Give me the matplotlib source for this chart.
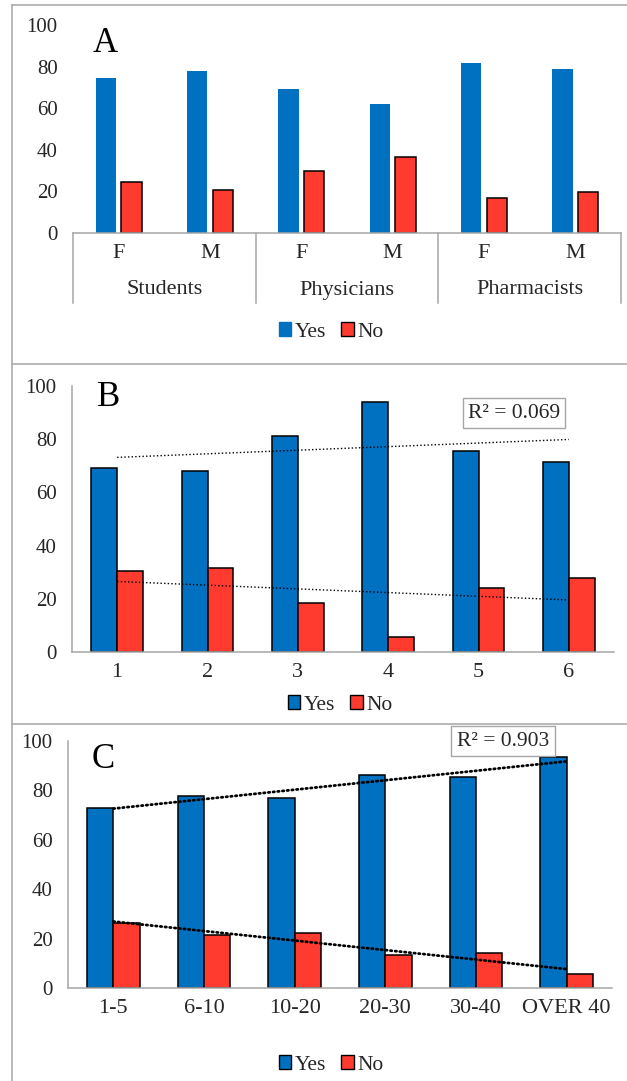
import matplotlib
matplotlib.use("Agg")
import matplotlib.pyplot as plt
import matplotlib.transforms as mtransforms
from matplotlib.lines import Line2D
from matplotlib.patches import Patch
import numpy as np

W, H = 627, 1081
BLUE = "#0070C0"
RED = "#FF3B30"
GRAY = "#A6A6A6"
TXT = "#262626"

plt.rcParams["font.family"] = ["Liberation Serif", "DejaVu Serif"]

# panel A: yes/no by profession and sex
groups_a = ["Students", "Physicians", "Pharmacists"]
sex_a = ["F", "M", "F", "M", "F", "M"]
yes_a = [74.4, 78.1, 69.3, 62.2, 81.9, 79.0]
no_a = [24.3, 20.5, 29.8, 36.3, 16.8, 19.5]

# panel B
cats_b = ["1", "2", "3", "4", "5", "6"]
yes_b = [69.0, 68.2, 81.1, 93.9, 75.5, 71.5]
no_b = [30.5, 31.6, 18.5, 5.8, 23.9, 27.9]
r2_b = "R² = 0.069"

# panel C: years of practice
cats_c = ["1-5", "6-10", "10-20", "20-30", "30-40", "OVER 40"]
yes_c = [73.0, 77.9, 77.1, 86.4, 85.3, 93.5]
no_c = [26.5, 21.6, 22.4, 13.2, 14.2, 5.8]
r2_c = "R² = 0.903"

TICK_FS = 15
CAT_FS = 16
LEG_FS = 15.5
LETTER_FS = 25

fig = plt.figure(figsize=(W / 100, H / 100), dpi=100)


def px_axes(x0, y0, x1, y1):
    return fig.add_axes([x0 / W, 1 - y1 / H, (x1 - x0) / W, (y1 - y0) / H])


def fx(x):
    return x / W


def fy(y):
    return 1 - y / H


def style(ax, left_spine=True):
    ax.set_ylim(0, 100)
    ax.set_yticks(range(0, 101, 20))
    for s in ["top", "right"]:
        ax.spines[s].set_visible(False)
    ax.spines["left"].set_visible(left_spine)
    ax.spines["left"].set_color(GRAY)
    ax.spines["bottom"].set_color(GRAY)
    ax.spines["left"].set_linewidth(1.1)
    ax.spines["bottom"].set_linewidth(1.1)
    ax.tick_params(length=0, labelsize=TICK_FS, labelcolor=TXT)
    ax.tick_params(axis="y", pad=11)
    ax.tick_params(axis="x", pad=8)
    ax.patch.set_alpha(0)


def legend(xc, yc, yes_edge):
    handles = [
        Patch(facecolor=BLUE, edgecolor="black" if yes_edge else BLUE, linewidth=1.0),
        Patch(facecolor=RED, edgecolor="black", linewidth=1.0),
    ]
    fig.legend(handles, ["Yes", "No"], loc="center", bbox_to_anchor=(fx(xc), fy(yc)),
               ncol=2, frameon=False, fontsize=LEG_FS, handlelength=0.6, handleheight=0.6,
               handletextpad=0.15, columnspacing=0.7, borderaxespad=0, labelcolor=TXT)


def trend(ax, vals, lw):
    # linear least-squares trendline from first to last category
    x = np.arange(1, len(vals) + 1)
    k, b = np.polyfit(x, vals, 1)
    xs = np.array([x[0], x[-1]])
    if lw < 1.5:
        ls, cap = (0, (1, 1.6)), "butt"
    else:
        ls, cap = (0, (0.5, 1.2)), "round"
    ax.plot(xs - 1, k * xs + b, linestyle=ls, color="black", linewidth=lw,
            dash_capstyle=cap, zorder=5)


# ---- A ----
ax = px_axes(73, 25, 621, 233)
style(ax, left_spine=False)
x = np.arange(len(sex_a))
w = 0.225
ax.bar(x - 0.14, yes_a, w, color=BLUE, linewidth=0)
ax.bar(x + 0.14, no_a, w, color=RED, edgecolor="black", linewidth=1.1)
ax.set_xlim(-0.5, len(sex_a) - 0.5)
ax.set_xticks(x)
ax.set_xticklabels(sex_a, fontsize=CAT_FS)
trans = mtransforms.blended_transform_factory(ax.transData, ax.transAxes)
for xb in [-0.5, 1.5, 3.5, 5.5]:
    ax.add_line(Line2D([xb, xb], [0, -70 / 208], transform=trans, color=GRAY,
                       linewidth=1.1, clip_on=False))
for i, g in enumerate(groups_a):
    ax.text(2 * i + 0.5, -57 / 208, g, transform=trans, ha="center", va="center",
            fontsize=CAT_FS, color=TXT)
fig.text(fx(105), fy(43), "A", ha="center", va="center", fontsize=LETTER_FS, color="black")
legend(331, 332, yes_edge=False)

# ---- B ----
ax = px_axes(72, 386, 614, 652)
style(ax)
x = np.arange(len(cats_b))
w = 0.285
ax.bar(x - w / 2, yes_b, w, color=BLUE, edgecolor="black", linewidth=1.1)
ax.bar(x + w / 2, no_b, w, color=RED, edgecolor="black", linewidth=1.1)
trend(ax, yes_b, 1.0)
trend(ax, no_b, 1.0)
ax.set_xlim(-0.5, len(cats_b) - 0.5)
ax.set_xticks(x)
ax.set_xticklabels(cats_b, fontsize=CAT_FS)
fig.text(fx(109), fy(397), "B", ha="center", va="center", fontsize=LETTER_FS, color="black")
fig.text(fx(514), fy(413), r2_b, ha="center", va="center", fontsize=LEG_FS, color=TXT,
         bbox=dict(boxstyle="square,pad=0.25", facecolor="white", edgecolor=GRAY, linewidth=1.0))
legend(340, 705, yes_edge=True)

# ---- C ----
ax = px_axes(68, 741, 612, 988)
style(ax)
x = np.arange(len(cats_c))
w = 0.29
ax.bar(x - w / 2, yes_c, w, color=BLUE, edgecolor="black", linewidth=1.1)
ax.bar(x + w / 2, no_c, w, color=RED, edgecolor="black", linewidth=1.1)
trend(ax, yes_c, 2.0)
trend(ax, no_c, 2.0)
ax.set_xlim(-0.5, len(cats_c) - 0.5)
ax.set_xticks(x)
ax.set_xticklabels(cats_c, fontsize=CAT_FS)
fig.text(fx(103), fy(759), "C", ha="center", va="center", fontsize=LETTER_FS, color="black")
fig.text(fx(503), fy(741), r2_c, ha="center", va="center", fontsize=LEG_FS, color=TXT,
         bbox=dict(boxstyle="square,pad=0.25", facecolor="white", edgecolor=GRAY, linewidth=1.0))
legend(331, 1065, yes_edge=True)

# panel frames
for yy in [5, 364, 724]:
    fig.add_artist(Line2D([fx(12), 1], [fy(yy), fy(yy)], color=GRAY, linewidth=1.1))
fig.add_artist(Line2D([fx(12), fx(12)], [fy(5), 0], color=GRAY, linewidth=1.1))

fig.savefig("out.png", dpi=100)
